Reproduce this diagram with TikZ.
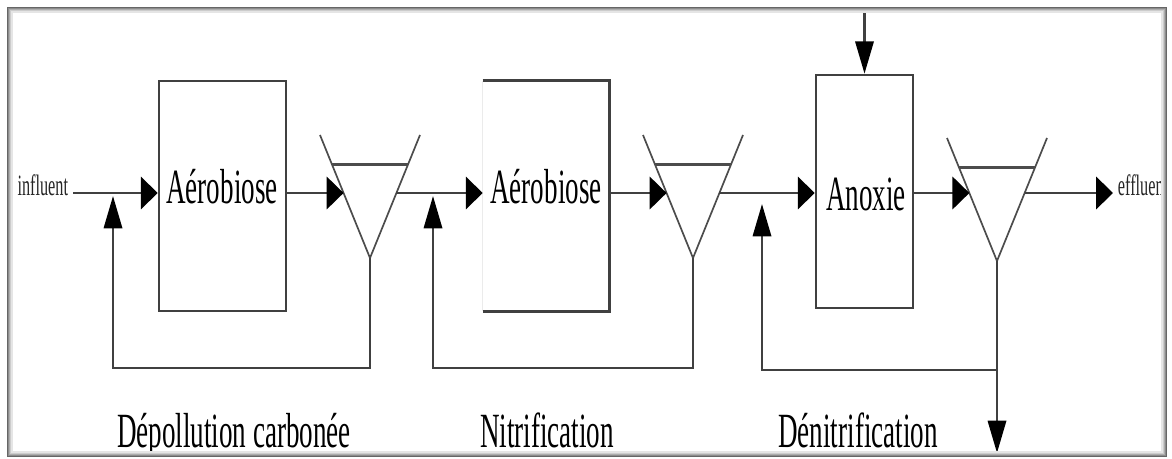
\documentclass[tikz,border=0pt]{standalone}
\usepackage{fontspec}
\usetikzlibrary{arrows.meta,calc}
\newfontfamily\narrowserif[FakeStretch=0.55]{Liberation Serif}

\begin{document}
\begin{tikzpicture}[x=0.025cm,y=-0.025cm,
  tank/.style={draw=black!75,line width=1.8pt,inner sep=0pt},
  flow/.style={draw=black!75,line width=1.8pt,-{Triangle[length=12pt,width=23pt,color=black]}},
  lift/.style={draw=black!75,line width=1.8pt,-{Triangle[length=23pt,width=13pt,color=black]}},
  settle/.style={draw=black!70,line width=1.2pt},
  word/.style={font=\narrowserif\fontsize{35}{35}\selectfont,inner sep=0pt,text=black},
  tag/.style={font=\narrowserif\fontsize{21}{21}\selectfont,text=black!85}]
\useasboundingbox (0,0) rectangle (1172,459);
\fill[white] (0,0) rectangle (1172,459);

\node[tank,minimum width=3.175cm,minimum height=5.75cm] (b1) at (222.5,196) {};
\node[minimum width=3.15cm,minimum height=5.75cm] (b2) at (546,196) {};
\draw[tank] (b2.north west) -- (b2.north east) -- (b2.south east) -- (b2.south west);
\draw[black!8,line width=1pt] (b2.north west) -- (b2.south west);
\node[tank,minimum width=2.425cm,minimum height=5.825cm] (b3) at (864.5,191.5) {};

\node[word,anchor=base] (t1) at (222,204) {Aérobiose};
\node[word,anchor=base] (t2) at (546,204) {Aérobiose};
\node[word,anchor=base] (t3) at (866,211) {Anoxie};

\foreach \n/\x/\y in {s1/370/135,s2/693/135,s3/997/138}{
  \coordinate (\n-tl) at (\x-50,\y);
  \coordinate (\n-tr) at (\x+50,\y);
  \coordinate (\n-v) at (\x,\y+123);
  \pgfmathsetmacro\f{(193-\y)/123}
  \coordinate (\n-in) at ($(\n-tl)!\f!(\n-v)$);
  \coordinate (\n-out) at ($(\n-tr)!\f!(\n-v)$);
  \draw[settle] (\n-tl) -- (\n-v) -- (\n-tr);
  \draw[settle,line width=1.8pt] ($(\n-tl)!0.24!(\n-v)$) -- ($(\n-tr)!0.24!(\n-v)$);
}

\node[tag,anchor=base east] (inf) at (73,196) {influent};
\coordinate (feed) at (73,193);
\draw[flow] (feed) -- (b1.west |- feed);
\draw[flow] (b1.east |- s1-in) -- (s1-in);
\draw[flow] (s1-out) -- (b2.west |- s1-out);
\draw[flow] (b2.east |- s2-in) -- (s2-in);
\draw[flow] (s2-out) -- (b3.west |- s2-out);
\draw[flow] (b3.east |- s3-in) -- (s3-in);
\node[tag,anchor=base west] (eff) at (1113,196) {effluent};
\draw[flow] (s3-out) -- (eff.west |- s3-out);

\coordinate (r1) at (113,196);
\coordinate (r2) at (433,196);
\coordinate (r3) at (762,204);
\draw[lift] (s1-v) -- (s1-v |- 0,368) -| (r1);
\draw[lift] (s2-v) -- (s2-v |- 0,368) -| (r2);
\draw[lift] (s3-v) -- (s3-v |- 0,370) -| (r3);
\draw[lift] (s3-v) -- (s3-v |- 0,453);
\coordinate (dose) at (b3.north |- 0,10);
\draw[lift] (dose) -- (b3.north);

\node[word,anchor=base] (l1) at (234,447) {Dépollution carbonée};
\node[word,anchor=base] (l2) at (547,447) {Nitrification};
\node[word,anchor=base] (l3) at (858,447) {Dénitrification};

\fill[white,even odd rule] (0,0) rectangle (1172,459) (8,8) rectangle (1166,456);
\foreach \k/\c in {0/60,1/45,2/32,3/20,4/10}
  \draw[black!\c,line width=0.8pt] (8+\k,8+\k) rectangle (1166-\k,456-\k);
\end{tikzpicture}
\end{document}
